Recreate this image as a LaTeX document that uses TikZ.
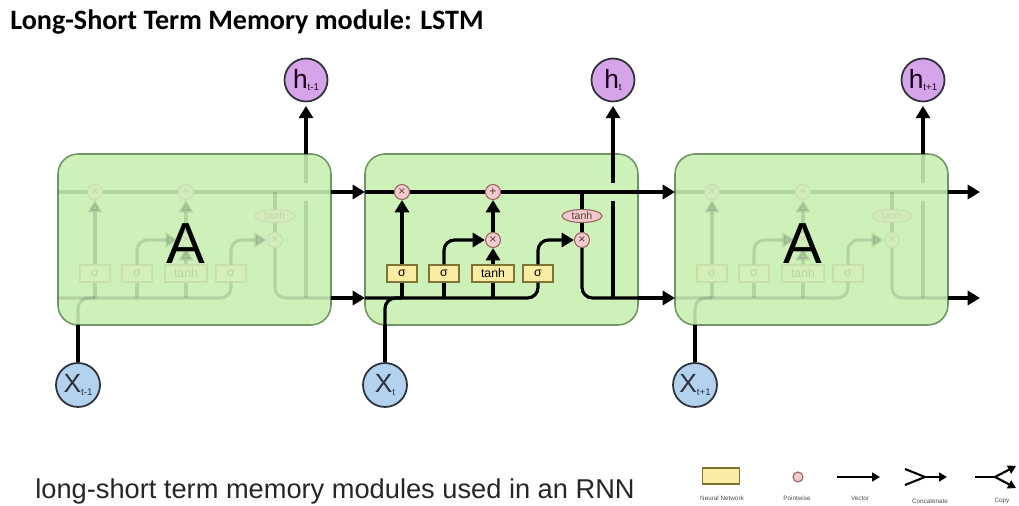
\documentclass[tikz,border=0pt]{standalone}
\usepackage{fontspec}
\setmainfont{Liberation Sans}
\newfontfamily\titlefont{Carlito}
\usetikzlibrary{shapes.geometric, arrows.meta}

\definecolor{cellgreen}{RGB}{206,241,186}
\definecolor{celledge}{RGB}{112,150,100}
\definecolor{gateyellow}{RGB}{250,237,163}
\definecolor{gateedge}{RGB}{128,116,52}
\definecolor{oppink}{RGB}{242,204,204}
\definecolor{opedge}{RGB}{150,96,96}
\definecolor{hviolet}{RGB}{214,164,232}
\definecolor{xblue}{RGB}{178,210,238}
\definecolor{ringgray}{RGB}{45,50,60}

\newcommand{\lowidx}[1]{\raisebox{-0.15ex}{\fontsize{5.5}{6}\selectfont #1}}

\tikzstyle{cellbox} = [
    rectangle,
    rounded corners=0.4cm,
    minimum width=5.46cm,
    minimum height=3.42cm,
    draw=celledge,
    fill=cellgreen,
    line width=0.9pt
]
\tikzstyle{gate} = [
    rectangle,
    minimum width=0.6cm,
    minimum height=0.34cm,
    inner sep=0pt,
    draw=gateedge,
    fill=gateyellow,
    line width=0.6pt,
    font=\fontsize{7}{8}\selectfont
]
\tikzstyle{pointwise} = [
    circle,
    minimum size=0.3cm,
    inner sep=0pt,
    draw=opedge,
    fill=oppink,
    line width=0.6pt,
    text=opedge!60!black,
    font=\fontsize{7}{7}\selectfont
]
\tikzstyle{tanhop} = [
    ellipse,
    minimum width=0.8cm,
    minimum height=0.26cm,
    inner sep=0pt,
    draw=opedge,
    fill=oppink,
    line width=0.6pt,
    text=opedge!60!black,
    font=\fontsize{6}{6}\selectfont
]
\tikzstyle{hstate} = [
    circle,
    minimum size=0.86cm,
    inner sep=0pt,
    draw=ringgray,
    fill=hviolet,
    line width=1pt,
    text=black!80!violet,
    font=\fontsize{15}{15}\selectfont
]
\tikzstyle{xinput} = [
    circle,
    minimum size=0.88cm,
    inner sep=0pt,
    draw=ringgray,
    fill=xblue,
    line width=1pt,
    text=ringgray,
    font=\fontsize{15}{15}\selectfont
]
\tikzstyle{celltag} = [font=\fontsize{33}{33}\selectfont]
\tikzstyle{keytext} = [font=\fontsize{3.6}{4}\selectfont, text=black!70]
\tikzstyle{wire} = [line width=1.8pt, draw=black]
\tikzstyle{arrow} = [wire, -{Triangle[length=7pt, width=8pt]}]
\tikzstyle{keyarrow} = [line width=1.2pt, -{Triangle[length=4.5pt, width=5pt]}]

\newcommand{\lstmcell}[3]{
\begin{scope}[shift={(#2,0)}]
\node (#1box) [cellbox] at (136.5,239.5) {};
\begin{scope}[opacity=#3]
\node (#1forget) [pointwise] at (37,192) {×};
\node (#1add) [pointwise] at (128,192) {+};
\node (#1mul) [pointwise] at (128,240) {×};
\node (#1out) [pointwise] at (217,240) {×};
\node (#1squash) [tanhop] at (217,216) {tanh};
\node (#1sig1) [gate] at (37,273.5) {σ};
\node (#1sig2) [gate] at (79,273.5) {σ};
\node (#1cand) [gate, minimum width=0.84cm] at (128,273.5) {tanh};
\node (#1sig3) [gate] at (173,273.5) {σ};
\coordinate (#1cin) at (0,192);
\coordinate (#1cout) at (273,192);
\coordinate (#1hin) at (0,298);
\coordinate (#1hout) at (273,298);
\coordinate (#1xin) at (20,325);
\coordinate (#1xjoin) at (37,298);
\coordinate (#1hbase) at (248,298);
\coordinate (#1gaplow) at (248,201);
\coordinate (#1gaphigh) at (248,183);
\coordinate (#1top) at (248,154);
\draw [wire] (#1cin) -- (#1forget) -- (#1add) -- (#1cout);
\draw [wire, rounded corners=6] (#1hin) -| (#1sig3);
\draw [wire, rounded corners=6] (#1xin) |- (#1xjoin);
\draw [wire] (#1sig1) -- (#1sig1 |- #1hin);
\draw [wire] (#1sig2) -- (#1sig2 |- #1hin);
\draw [wire] (#1cand) -- (#1cand |- #1hin);
\draw [arrow] (#1sig1) -- (#1forget);
\draw [arrow, rounded corners=6] (#1sig2) |- (#1mul);
\draw [arrow] (#1cand) -- (#1mul);
\draw [arrow] (#1mul) -- (#1add);
\draw [arrow, rounded corners=6] (#1sig3) |- (#1out);
\draw [wire] (#1squash |- #1cin) -- (#1squash);
\draw [wire] (#1squash) -- (#1out);
\draw [wire, rounded corners=6] (#1out) |- (#1hout);
\draw [wire] (#1hbase) -- (#1gaplow);
\draw [wire] (#1gaphigh) -- (#1top);
\end{scope}
\end{scope}
}

\begin{document}
\begin{tikzpicture}[x=0.02cm, y=-0.02cm]

\useasboundingbox (0,0) rectangle (1019,506);

\node (title) [anchor=base west, inner sep=0pt, font=\titlefont\bfseries\fontsize{16}{19}\selectfont]
at (10,30) {Long-Short Term Memory module: LSTM};

\lstmcell{L}{58}{0.12}
\lstmcell{M}{365}{1}
\lstmcell{R}{675}{0.12}

\node (Lname) [celltag] at (186,244) {A};
\node (Rname) [celltag] at (803,244) {A};

\node (hprev) [hstate] at (306,80) {h\lowidx{t-1}};
\node (hcur) [hstate] at (613,80) {h\lowidx{t}};
\node (hnext) [hstate] at (923,80) {h\lowidx{t+1}};

\node (xprev) [xinput] at (78,385) {X\lowidx{t-1}};
\node (xcur) [xinput] at (385,385) {X\lowidx{t}};
\node (xnext) [xinput] at (695,385) {X\lowidx{t+1}};

\coordinate (cend) at (980,192);
\coordinate (hend) at (980,298);

\draw [arrow, shorten >=2pt] (Ltop) -- (hprev);
\draw [arrow, shorten >=2pt] (Mtop) -- (hcur);
\draw [arrow, shorten >=2pt] (Rtop) -- (hnext);

\draw [wire] (xprev) -- (Lxin);
\draw [wire] (xcur) -- (Mxin);
\draw [wire] (xnext) -- (Rxin);

\draw [arrow] (Lcout) -- (Mcin);
\draw [arrow] (Lhout) -- (Mhin);
\draw [arrow] (Mcout) -- (Rcin);
\draw [arrow] (Mhout) -- (Rhin);
\draw [arrow] (Rcout) -- (cend);
\draw [arrow] (Rhout) -- (hend);

\node (caption) [anchor=base west, inner sep=0pt, font=\fontsize{15.5}{18}\selectfont, text=black!85]
at (35,499) {long-short term memory modules used in an RNN};

\node (nnkey) [gate, minimum width=0.74cm, minimum height=0.32cm] at (721,476) {};
\node (pwkey) [pointwise, minimum size=0.2cm] at (798,477) {};
\coordinate (vecstart) at (837,477);
\coordinate (vecend) at (880,477);
\coordinate (catupper) at (905,469);
\coordinate (catlower) at (905,485);
\coordinate (catmerge) at (925,477);
\coordinate (catend) at (947,477);
\coordinate (copystart) at (975,477);
\coordinate (copysplit) at (995,477);
\coordinate (copyup) at (1016,466);
\coordinate (copydown) at (1016,488);

\draw [keyarrow] (vecstart) -- (vecend);
\draw [wire, line width=1.2pt] (catupper) -- (catmerge) -- (catlower);
\draw [keyarrow] (catmerge) -- (catend);
\draw [wire, line width=1.2pt] (copystart) -- (copysplit);
\draw [keyarrow] (copysplit) -- (copyup);
\draw [keyarrow] (copysplit) -- (copydown);

\node (nnlabel) [keytext] at (722,498) {Neural Network};
\node (pwlabel) [keytext] at (797,498) {Pointwise};
\node (veclabel) [keytext] at (860,498) {Vector};
\node (catlabel) [keytext] at (930,501) {Concatenate};
\node (copylabel) [keytext] at (1002,501) {Copy};

\end{tikzpicture}
\end{document}
